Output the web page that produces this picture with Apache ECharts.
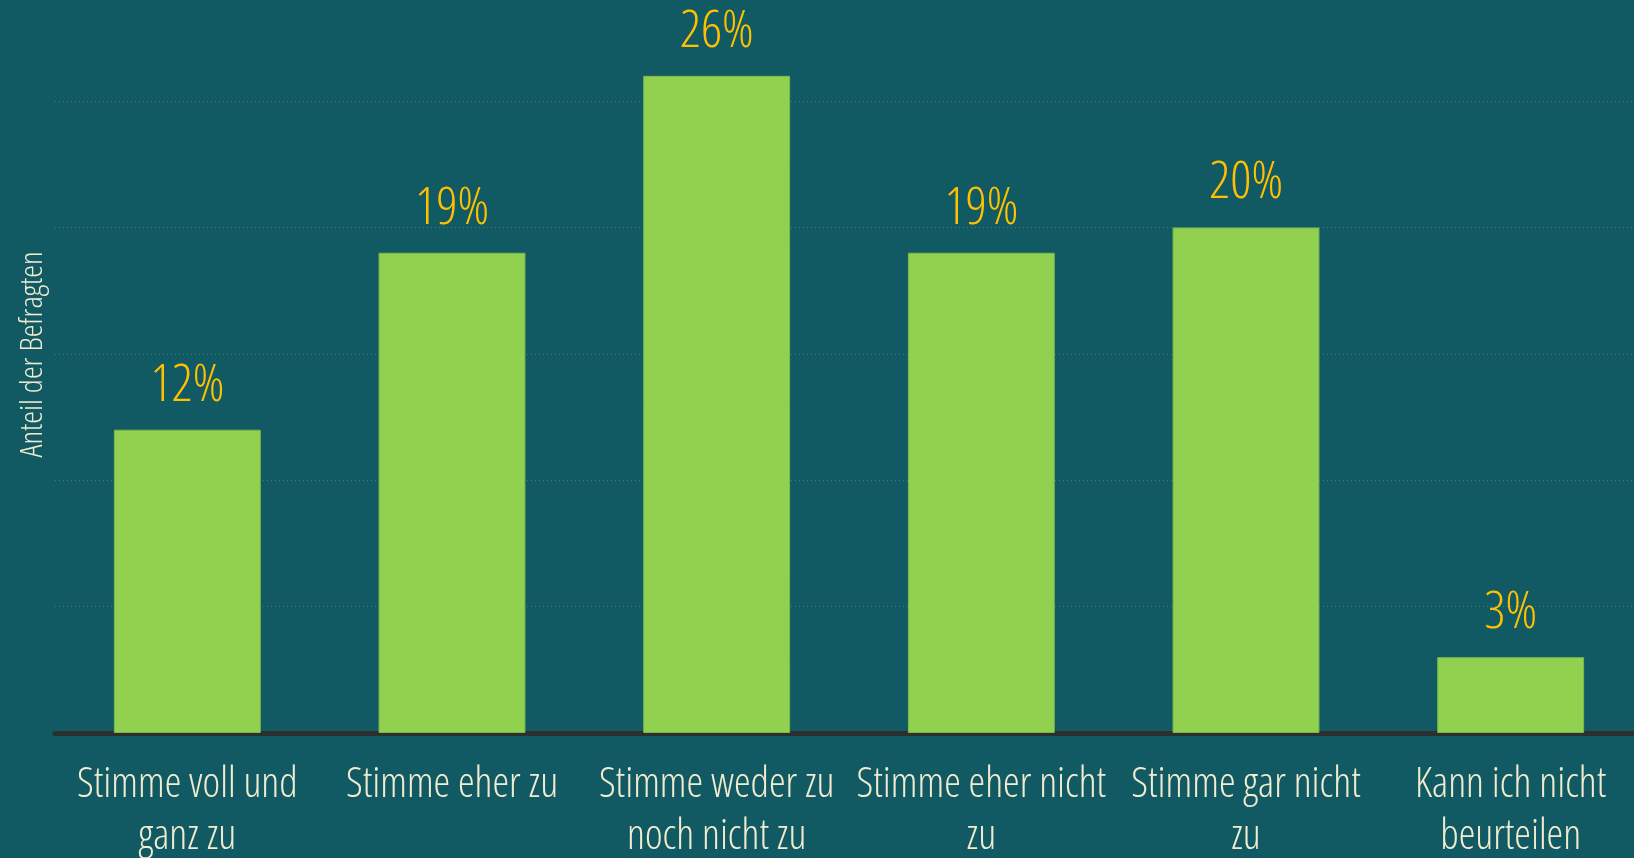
<!DOCTYPE html>
<html>
<head>
<meta charset="utf-8">
<script src="https://cdn.jsdelivr.net/npm/echarts@6/dist/echarts.min.js"></script>
<style>
  html, body { margin: 0; padding: 0; background: #115a63; }
  #chart { width: 1634px; height: 858px; }
</style>
</head>
<body>
<div id="chart"></div>
<script>
const categories = [
  'Stimme voll und\nganz zu',
  'Stimme eher zu',
  'Stimme weder zu\nnoch nicht zu',
  'Stimme eher nicht\nzu',
  'Stimme gar nicht\nzu',
  'Kann ich nicht\nbeurteilen'
]
const shares = [12, 19, 26, 19, 20, 3]
const axisName = 'Anteil der Befragten'

// light + condensed goes into the canvas font shorthand
const font = '"Open Sans", "DejaVu Sans Condensed", sans-serif'
const weight = '300 condensed'

const chart = echarts.init(document.getElementById('chart'))
chart.setOption({
  backgroundColor: '#115a63',
  animation: false,
  grid: { left: 55, right: -9, top: 0, bottom: 125, outerBoundsMode: 'none' },
  xAxis: {
    type: 'category',
    data: categories,
    axisTick: { show: false },
    axisLine: { lineStyle: { color: '#2b2f30', width: 5 } },
    axisLabel: {
      color: '#f1ecd0',
      fontFamily: font,
      fontWeight: weight,
      fontSize: 42,
      lineHeight: 52,
      margin: 26,
      interval: 0
    }
  },
  yAxis: {
    type: 'value',
    min: 0,
    max: 29,
    interval: 5,
    name: axisName,
    nameLocation: 'middle',
    nameGap: 6,
    nameTextStyle: {
      color: '#f1ecd0',
      fontFamily: font,
      fontWeight: weight,
      fontSize: 32,
      padding: [0, 0, 0, 24]
    },
    axisLabel: { show: false },
    axisTick: { show: false },
    axisLine: { show: false },
    splitLine: {
      showMaxLine: false,
      lineStyle: { color: '#4a7479', type: [1, 3], width: 1 }
    }
  },
  series: [{
    type: 'bar',
    data: shares,
    barWidth: '55.5%',
    itemStyle: { color: '#92d050', borderColor: '#7cb94a', borderWidth: 1 },
    label: {
      show: true,
      position: 'top',
      distance: 18,
      formatter: '{c}%',
      color: '#ffc000',
      fontFamily: font,
      fontWeight: weight,
      fontSize: 52,
      lineHeight: 52
    }
  }]
})
</script>
</body>
</html>
